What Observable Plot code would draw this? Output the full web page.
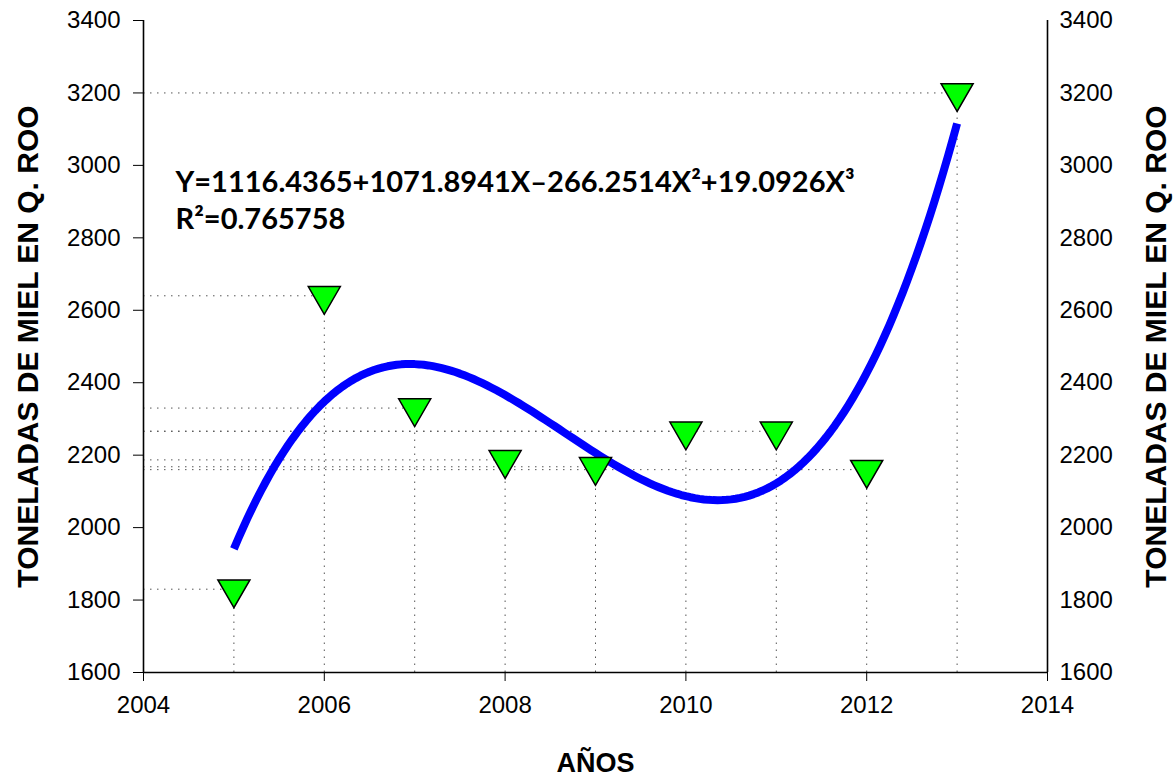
<!DOCTYPE html>
<html>
<head>
<meta charset="utf-8">
<script src="https://cdn.jsdelivr.net/npm/d3@7"></script>
<script src="https://cdn.jsdelivr.net/npm/@observablehq/plot@0.6"></script>
<style>
  body { margin: 0; background: #fff; }
  #chart svg { display: block; }
</style>
</head>
<body>
<div id="chart"></div>
<script>
// Honey production in Quintana Roo, tonnes per year
const years  = [2005, 2006, 2007, 2008, 2009, 2010, 2011, 2012, 2013];
const tonnes = [1830, 2640, 2330, 2187, 2168, 2266, 2266, 2160, 3200];

// Cubic trend fitted on X = year - 2004 (coefficients as printed on the chart)
const baseYear = 2004;
const coef = [1116.4365, 1071.8941, -266.2514, 19.0926];
const equationText = "Y=1116.4365+1071.8941X\u2013266.2514X\u00B2+19.0926X\u00B3";
const r2Text = "R\u00B2=0.765758";

const yTicks = [1600, 1800, 2000, 2200, 2400, 2600, 2800, 3000, 3200, 3400];
const xTicks = [2004, 2006, 2008, 2010, 2012, 2014];

const xLabel = "AÑOS";
const yLabel = "TONELADAS DE MIEL EN Q. ROO";

const points = years.map((year, i) => ({year, value: tonnes[i]}));

// trend line sampled along the fitted polynomial between the first and last year
const trend = d3.range(years[0], years[years.length - 1] + 1e-9, 0.05).map(year => {
  const X = year - baseYear;
  return {year, value: coef[0] + coef[1] * X + coef[2] * X * X + coef[3] * X * X * X};
});

const sans = "'Liberation Sans', Arial, sans-serif";
const dotted = {stroke: "#555", strokeWidth: 1, strokeDasharray: "1.5,5.5"};
const tickFont = {fontSize: 24, fontFamily: sans};
const titleFont = {fontFamily: sans, fontWeight: "bold", fill: "black", textAnchor: "middle", lineAnchor: "middle"};
const eqFont = {fontFamily: "Lato, 'Open Sans', sans-serif", fontWeight: "bold", fontSize: 29, fill: "black", textAnchor: "start", lineAnchor: "middle"};

const chart = Plot.plot({
  width: 1175,
  height: 778,
  marginLeft: 143,
  marginRight: 128,
  marginTop: 20,
  marginBottom: 106,
  style: {fontFamily: sans, fontSize: "24px", color: "black", background: "white"},
  x: {domain: [2004, 2014]},
  y: {domain: [1600, 3400]},
  marks: [
    // drop lines from each point to both axes
    Plot.ruleY(points, {y: "value", x1: baseYear, x2: "year", ...dotted}),
    Plot.ruleX(points, {x: "year", y1: 1600, y2: "value", ...dotted}),

    // axes
    Plot.axisY(yTicks, {anchor: "left", tickSize: 10, tickPadding: 13, tickFormat: "d", label: null, ...tickFont}),
    Plot.axisY(yTicks, {anchor: "right", tickSize: 0, tickPadding: 12, tickFormat: "d", label: null, ...tickFont}),
    Plot.axisX(xTicks, {tickSize: 9, tickPadding: 14, tickFormat: "d", label: null, ...tickFont}),
    Plot.ruleX([2004, 2014], {y1: 1600, y2: 3400, stroke: "black", strokeWidth: 1.6}),
    Plot.ruleY([1600], {stroke: "black", strokeWidth: 1.6}),

    // fitted cubic trend
    Plot.line(trend, {x: "year", y: "value", stroke: "#0000ff", strokeWidth: 8, strokeLinecap: "butt", strokeLinejoin: "round"}),

    // observed values
    Plot.dot(points, {x: "year", y: "value", symbol: "triangle", r: 11.9, rotate: 180, fill: "#00ff00", stroke: "black", strokeWidth: 1.5}),

    // regression equation
    Plot.text([equationText], {frameAnchor: "top-left", dx: 32, dy: 162.7, ...eqFont}),
    Plot.text([r2Text], {frameAnchor: "top-left", dx: 32, dy: 199.7, ...eqFont}),

    // axis titles
    Plot.text([xLabel], {frameAnchor: "bottom", dy: 91, fontSize: 27, ...titleFont}),
    Plot.text([yLabel], {frameAnchor: "left", dx: -115, rotate: -90, fontSize: 30, ...titleFont}),
    Plot.text([yLabel], {frameAnchor: "right", dx: 109, rotate: -90, fontSize: 30, ...titleFont})
  ]
});

document.getElementById("chart").append(chart);
</script>
</body>
</html>
